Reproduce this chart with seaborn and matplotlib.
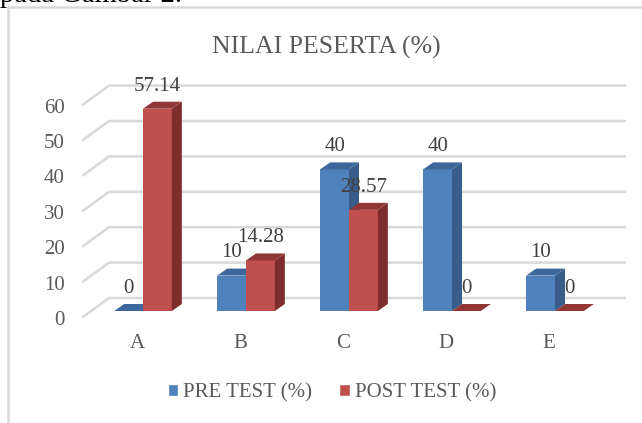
import numpy as np
import pandas as pd
import matplotlib
matplotlib.use("Agg")
import matplotlib.pyplot as plt
import matplotlib.transforms as mtransforms
from matplotlib.patches import Polygon, Patch
from matplotlib.lines import Line2D
import seaborn as sns

# data
categories = ["A", "B", "C", "D", "E"]
pre_test = [0, 10, 40, 40, 10]
post_test = [57.14, 14.28, 28.57, 0, 0]
series_names = ["PRE TEST (%)", "POST TEST (%)"]
y_ticks = [0, 10, 20, 30, 40, 50, 60]

BLUE, BLUE_SIDE, BLUE_TOP = "#4F81BD", "#385D8A", "#3D679A"
RED, RED_SIDE, RED_TOP = "#C0504D", "#7D2D2B", "#913735"
GRID = "#D9D9D9"

df = pd.DataFrame({
    "kategori": categories * 2,
    "nilai": pre_test + post_test,
    "tes": [series_names[0]] * len(categories) + [series_names[1]] * len(categories),
})

sns.set_theme(style="white")
plt.rcParams["font.family"] = ["Liberation Serif", "DejaVu Serif"]

W, H = 642, 423
fig = plt.figure(figsize=(W / 100, H / 100), dpi=100)
# plot area in pixels: x 83..625, y 80..320 (from top)
ax = fig.add_axes([83 / W, 1 - 320 / H, (625 - 83) / W, 240 / H])

sns.barplot(data=df, x="kategori", y="nilai", hue="tes", palette=[BLUE, RED],
            width=0.56, saturation=1, legend=False, ax=ax, err_kws={"linewidth": 0})

ax.set_xlim(-0.5825, 4.6796)
ax.set_ylim(-2.542, 65.25)
ax.set_xlabel("")
ax.set_ylabel("")
sns.despine(ax=ax, left=True, bottom=True)
ax.grid(False)

# 3d depth offset of the bars, in pixels
DX, DY = 10, 7

fig.canvas.draw()
ident = mtransforms.IdentityTransform()

# gridlines on the back wall plus the slanted side lines
ytrans = ax.get_yaxis_transform()
x_back = (109 - 83) / (625 - 83)
for v in y_ticks:
    fx, fy = ytrans.transform((0, v))
    bx, by = ytrans.transform((x_back, v))
    ex, _ = ytrans.transform((1, v))
    fy -= 6
    by += 13
    ax.add_line(Line2D([fx, bx, ex], [fy, by, by], transform=ident, color=GRID,
                       lw=1.8, zorder=0.5, clip_on=False))

# side and top faces of every bar
face_colors = [(BLUE_SIDE, BLUE_TOP), (RED_SIDE, RED_TOP)]
for k, cont in enumerate(ax.containers):
    side_c, top_c = face_colors[k]
    for bar in cont:
        bar.set_zorder(2 + k)
        bar.set_edgecolor("none")
        x0, x1 = bar.get_x(), bar.get_x() + bar.get_width()
        h = bar.get_height()
        (px0, py0), (px1, py1) = ax.transData.transform([(x0, 0), (x1, h)])
        side = Polygon([(px1, py0), (px1, py1), (px1 + DX, py1 + DY), (px1 + DX, py0 + DY)],
                       closed=True, transform=ident, facecolor=side_c, edgecolor="none",
                       zorder=2 + k, clip_on=False)
        top = Polygon([(px0, py1), (px1, py1), (px1 + DX, py1 + DY), (px0 + DX, py1 + DY)],
                      closed=True, transform=ident, facecolor=top_c, edgecolor="none",
                      zorder=2 + k, clip_on=False)
        ax.add_patch(side)
        ax.add_patch(top)
    ax.bar_label(cont, labels=[f"{b.get_height():g}" for b in cont], padding=9.5,
                 fontsize=15, color="#404040", zorder=10)

# ticks
ax.set_yticks(y_ticks)
ax.set_yticklabels([str(t) for t in y_ticks])
ax.tick_params(axis="y", length=0, pad=13, labelsize=15, labelcolor="#595959")
ax.tick_params(axis="x", length=0, pad=10, labelsize=15, labelcolor="#595959")
for lbl in ax.get_yticklabels():
    lbl.set_transform(lbl.get_transform() + mtransforms.Affine2D().translate(0, -7))
for lbl in ax.get_xticklabels():
    lbl.set_transform(lbl.get_transform() + mtransforms.Affine2D().translate(-6, 0))

fig.text(326 / W, 1 - 47 / H, "NILAI PESERTA (%)", ha="center", va="center",
         fontsize=18.5, color="#595959")

handles = [Patch(facecolor=BLUE), Patch(facecolor=RED)]
fig.legend(handles, series_names, loc="center", bbox_to_anchor=(332 / W, 1 - 393 / H),
           ncol=2, frameon=False, fontsize=15, handlelength=0.5, handleheight=0.5,
           handletextpad=0.25, columnspacing=1.3, labelcolor="#595959")

# chart border and the cut-off caption above the chart
fig.add_artist(Line2D([8 / W, 8 / W, 1], [0, 1 - 7 / H, 1 - 7 / H],
                      transform=fig.transFigure, color=GRID, lw=1.8))
fig.text(0, 1 - 1.5 / H, "pada Gambar 2.", ha="left", va="baseline",
         fontsize=20.6, color="black")

fig.savefig("out.png", dpi=100)
